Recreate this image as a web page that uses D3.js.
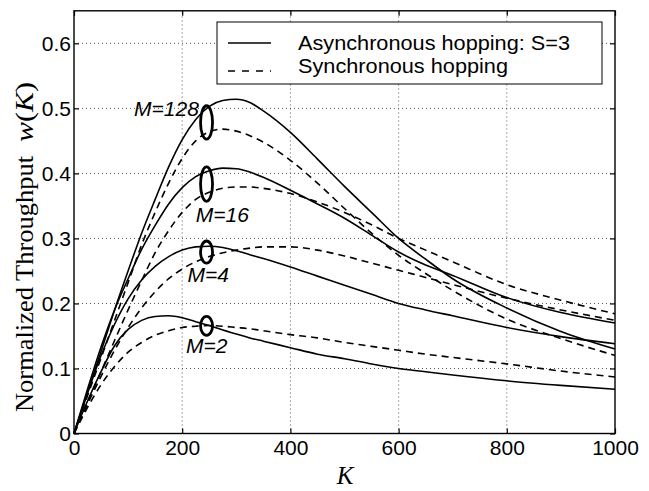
<!DOCTYPE html>
<html><head><meta charset="utf-8">
<script src="https://cdn.jsdelivr.net/npm/d3@7"></script>
<style>body{margin:0;background:#fff}</style>
</head><body><svg id="c" width="649" height="491"></svg>
<script>
// ---- data ----
const K = [0,25,50,75,100,125,150,175,200,225,250,275,300,325,350,400,450,500,550,600,650,700,800,900,1000];
const asyncM128 = [0,.063,.126,.19,.25,.308,.36,.41,.452,.483,.503,.512,.514,.509,.496,.463,.422,.38,.34,.300,.268,.238,.193,.157,.130];
const syncM128  = [0,.058,.116,.174,.232,.29,.34,.385,.423,.45,.464,.468,.465,.458,.448,.42,.385,.346,.308,.274,.246,.220,.176,.146,.120];
const asyncM16  = [0,.068,.133,.19,.238,.283,.32,.353,.378,.395,.404,.408,.407,.402,.394,.374,.353,.331,.305,.279,.259,.243,.209,.186,.170];
const syncM16   = [0,.048,.095,.143,.19,.235,.278,.312,.34,.36,.371,.377,.379,.379,.377,.369,.356,.34,.321,.30,.282,.264,.229,.205,.184];
const asyncM4   = [0,.062,.12,.168,.207,.236,.257,.272,.282,.287,.288,.286,.281,.275,.269,.256,.242,.228,.214,.200,.19,.181,.163,.149,.138];
const syncM4    = [0,.045,.088,.128,.163,.193,.218,.238,.253,.264,.272,.278,.282,.285,.287,.287,.282,.273,.262,.251,.24,.229,.208,.19,.174];
const asyncM2   = [0,.05,.095,.135,.16,.174,.18,.181,.178,.172,.166,.159,.153,.147,.142,.132,.122,.115,.107,.100,.095,.09,.081,.074,.068];
const syncM2    = [0,.04,.075,.103,.125,.14,.151,.158,.163,.165,.166,.165,.163,.161,.158,.152,.147,.14,.134,.128,.122,.117,.107,.096,.087];

const xTicks = [0,200,400,600,800,1000];
const yTicks = [0,0.1,0.2,0.3,0.4,0.5,0.6];
const xDomain = [0,1000];
const yDomain = [0,0.65];
const legendLabels = ["Asynchronous hopping: S=3","Synchronous hopping"];
const annotLabels = ["M=128","M=16","M=4","M=2"];
const annotK = [111,225,210,207];
const annotV = [0.488,0.325,0.233,0.124];
const ellipseK  = [245,245,245,245];
const ellipseLo = [0.4526,0.357,0.262,0.151];
const ellipseHi = [0.504,0.410,0.296,0.180];
const xLabel = "K";
const yLabelText = "Normalized Throughput";

// ---- drawing ----
const svg = d3.select("#c");
svg.append("rect").attr("width",649).attr("height",491).attr("fill","#fff");
const x = d3.scaleLinear().domain(xDomain).range([74,615]);
const y = d3.scaleLinear().domain(yDomain).range([433.5,10.8]);
const L=74,R=615,T=10.8,B=433.5;

// grid
const grid = svg.append("g");
grid.selectAll(".gx").data(xTicks.slice(1,-1)).join("line")
  .attr("x1",d=>x(d)).attr("x2",d=>x(d)).attr("y1",B).attr("y2",T)
  .attr("stroke","#555").attr("stroke-width",1).attr("stroke-dasharray","1,3");
grid.selectAll(".gy").data(yTicks.slice(1)).join("line")
  .attr("x1",L).attr("x2",R).attr("y1",d=>y(d)).attr("y2",d=>y(d))
  .attr("stroke","#555").attr("stroke-width",1).attr("stroke-dasharray","1,3");

// curves
const series = [
  {v:asyncM128,dash:false},{v:syncM128,dash:true},
  {v:asyncM16,dash:false},{v:syncM16,dash:true},
  {v:asyncM4,dash:false},{v:syncM4,dash:true},
  {v:asyncM2,dash:false},{v:syncM2,dash:true}
];
const line = d3.line().x((d,i)=>x(K[i])).y(d=>y(d)).curve(d3.curveMonotoneX);
svg.append("g").selectAll("path").data(series).join("path")
  .attr("d",s=>line(s.v)).attr("fill","none").attr("stroke","#000")
  .attr("stroke-width",1.6).attr("stroke-dasharray",s=>s.dash?"7,5":null);

// ellipses
svg.append("g").selectAll("ellipse").data(ellipseK).join("ellipse")
  .attr("cx",d=>x(d)).attr("cy",(d,i)=>(y(ellipseLo[i])+y(ellipseHi[i]))/2)
  .attr("rx",6).attr("ry",(d,i)=>(y(ellipseLo[i])-y(ellipseHi[i]))/2)
  .attr("fill","none").attr("stroke","#000").attr("stroke-width",2.8);

// annotation labels
svg.append("g").selectAll("text").data(annotLabels).join("text")
  .attr("x",(d,i)=>x(annotK[i])).attr("y",(d,i)=>y(annotV[i]))
  .attr("font-family","Liberation Sans, Arial, sans-serif").attr("font-style","italic")
  .attr("font-size",21).text(d=>d);

// axes
const fontSans = "Liberation Sans, Arial, sans-serif";
const ax = svg.append("g").attr("transform",`translate(0,${B})`)
  .call(d3.axisBottom(x).tickValues(xTicks).tickSize(-5).tickPadding(7).tickFormat(d3.format("d")));
const ay = svg.append("g").attr("transform",`translate(${L},0)`)
  .call(d3.axisLeft(y).tickValues(yTicks).tickSize(-5).tickPadding(3).tickFormat(d=>d===0?"0":d3.format(".1f")(d)));
const at = svg.append("g").attr("transform",`translate(0,${T})`)
  .call(d3.axisTop(x).tickValues(xTicks).tickSize(-5).tickFormat(""));
const ar = svg.append("g").attr("transform",`translate(${R},0)`)
  .call(d3.axisRight(y).tickValues(yTicks).tickSize(-5).tickFormat(""));
[ax,ay,at,ar].forEach(g=>{
  g.select(".domain").remove();
  g.selectAll(".tick line").attr("stroke","#000").attr("stroke-width",1.2);
  g.selectAll("text").attr("font-family",fontSans).attr("font-size",21).attr("fill","#000");
});
svg.append("rect").attr("x",L).attr("y",T).attr("width",R-L).attr("height",B-T)
  .attr("fill","none").attr("stroke","#000").attr("stroke-width",1.4);

// legend
const lg = svg.append("g");
lg.append("rect").attr("x",217).attr("y",22).attr("width",385).attr("height",62)
  .attr("fill","#fff").attr("stroke","#000").attr("stroke-width",1);
const legY = [43,71];
lg.selectAll("line").data(legendLabels).join("line")
  .attr("x1",228).attr("x2",271).attr("y1",(d,i)=>legY[i]).attr("y2",(d,i)=>legY[i])
  .attr("stroke","#000").attr("stroke-width",1.4).attr("stroke-dasharray",(d,i)=>i?"7,7":null);
const legLen = [272,210];
lg.selectAll("text").data(legendLabels).join("text")
  .attr("x",298).attr("y",(d,i)=>[49.5,73][i])
  .attr("font-family",fontSans).attr("font-size",20)
  .attr("textLength",(d,i)=>legLen[i]).attr("lengthAdjust","spacingAndGlyphs").text(d=>d);

// axis labels
svg.append("text").attr("x",345).attr("y",484).attr("text-anchor","middle")
  .attr("font-family","Liberation Serif, Times New Roman, serif").attr("font-style","italic")
  .attr("font-size",25).text(xLabel);
svg.append("text").attr("transform","translate(33,412) rotate(-90)")
  .attr("font-family","Liberation Serif, Times New Roman, serif").attr("font-size",25)
  .attr("textLength",256).attr("lengthAdjust","spacingAndGlyphs").text(yLabelText);
const wk = svg.append("text").attr("transform","translate(33,142) rotate(-90)")
  .attr("font-family","Liberation Serif, Times New Roman, serif").attr("font-size",25)
  .attr("textLength",60).attr("lengthAdjust","spacingAndGlyphs");
wk.append("tspan").attr("font-style","italic").text("w");
wk.append("tspan").text("(");
wk.append("tspan").attr("font-style","italic").text("K");
wk.append("tspan").text(")");
</script></body></html>
